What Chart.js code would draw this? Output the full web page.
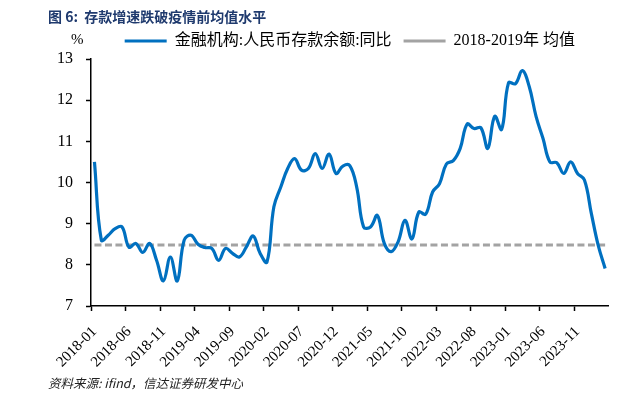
<!DOCTYPE html>
<html>
<head>
<meta charset="utf-8">
<script src="https://cdn.jsdelivr.net/npm/chart.js@4.4.1/dist/chart.umd.min.js"></script>
<style>
  html, body { margin: 0; padding: 0; background: #fff; }
  #wrap { position: relative; width: 630px; height: 394px; }
  #title { position: absolute; left: 48px; top: 6px; font: bold 14px "Noto Sans CJK SC"; color: #1F3A6E; white-space: nowrap; }
  #unit { position: absolute; left: 71px; top: 31px; font: 15px "Liberation Serif"; color: #000; }
  #source { position: absolute; left: 48px; top: 373px; font: italic 12.5px "Noto Sans CJK SC"; color: #222; white-space: nowrap; }
</style>
</head>
<body>
<div id="wrap">
  <canvas id="depositChart" width="630" height="394"></canvas>
  <div id="title">图 6:&nbsp; 存款增速跌破疫情前均值水平</div>
  <div id="unit">%</div>
  <div id="source">资料来源: ifind，信达证券研发中心</div>
</div>
<script>
// month categories, 2018-01 .. 2024-03
const months = [
  '2018-01','2018-02','2018-03','2018-04','2018-05','2018-06','2018-07','2018-08','2018-09','2018-10','2018-11','2018-12',
  '2019-01','2019-02','2019-03','2019-04','2019-05','2019-06','2019-07','2019-08','2019-09','2019-10','2019-11','2019-12',
  '2020-01','2020-02','2020-03','2020-04','2020-05','2020-06','2020-07','2020-08','2020-09','2020-10','2020-11','2020-12',
  '2021-01','2021-02','2021-03','2021-04','2021-05','2021-06','2021-07','2021-08','2021-09','2021-10','2021-11','2021-12',
  '2022-01','2022-02','2022-03','2022-04','2022-05','2022-06','2022-07','2022-08','2022-09','2022-10','2022-11','2022-12',
  '2023-01','2023-02','2023-03','2023-04','2023-05','2023-06','2023-07','2023-08','2023-09','2023-10','2023-11','2023-12',
  '2024-01','2024-02','2024-03'
];

// 金融机构:人民币存款余额:同比 (%)
const depositYoY = [
  10.50, 8.60, 8.72, 8.88, 8.92, 8.43, 8.52, 8.30, 8.52, 8.11, 7.61, 8.19,
  7.61, 8.60, 8.72, 8.50, 8.42, 8.40, 8.11, 8.40, 8.28, 8.19, 8.43, 8.70,
  8.28, 8.07, 9.41, 9.89, 10.34, 10.58, 10.30, 10.34, 10.70, 10.34, 10.69, 10.22,
  10.40, 10.41, 9.89, 8.92, 8.92, 9.20, 8.52, 8.32, 8.56, 9.08, 8.63, 9.28,
  9.23, 9.77, 9.97, 10.45, 10.53, 10.83, 11.42, 11.31, 11.33, 10.83, 11.61, 11.29,
  12.42, 12.40, 12.72, 12.33, 11.60, 11.07, 10.50, 10.48, 10.22, 10.50, 10.22, 10.06,
  9.25, 8.47, 7.91
];

// 2018-2019年 均值
const preCovidAvg = 8.48;

const serifFont = '"Liberation Serif", "Noto Sans CJK SC"';

const ctx = document.getElementById('depositChart');

new Chart(ctx, {
    type: 'line',
    data: {
        labels: months,
        datasets: [{
            label: '金融机构:人民币存款余额:同比',
            data: depositYoY,
            borderColor: '#0070C0',
            borderWidth: 3.2,
            pointRadius: 0,
            pointStyle: 'line',
            tension: 0.4
        }, {
            label: '2018-2019年 均值',
            data: months.map(() => preCovidAvg),
            borderColor: '#A3A3A3',
            borderWidth: 3,
            borderDash: [7, 3.5],
            pointRadius: 0,
            pointStyle: 'line'
        }]
    },
    options: {
        responsive: false,
        animation: false,
        layout: { padding: { top: 21, right: 21, left: 0, bottom: 0 } },
        plugins: {
            legend: {
                position: 'top',
                fullSize: false,
                labels: {
                    usePointStyle: true,
                    pointStyleWidth: 42,
                    boxHeight: 16,
                    padding: 12,
                    color: '#000',
                    font: { family: serifFont, size: 16 }
                }
            },
            tooltip: { enabled: false }
        },
        scales: {
            x: {
                offset: true,
                grid: {
                    offset: true,
                    drawOnChartArea: false,
                    tickLength: 5,
                    tickWidth: 1.5,
                    tickColor: c => (c.index % 5 === 0 ? '#000' : 'rgba(0,0,0,0)')
                },
                border: { color: '#000', width: 1.5 },
                ticks: {
                    autoSkip: false,
                    minRotation: 45,
                    maxRotation: 45,
                    padding: 12,
                    color: '#000',
                    font: { family: serifFont, size: 15 },
                    callback: (v, i) => (i % 5 === 0 ? months[i] : '')
                },
                afterFit: s => { s.height = 88; }
            },
            y: {
                min: 7,
                max: 13,
                ticks: {
                    stepSize: 1,
                    padding: 13,
                    color: '#000',
                    font: { family: serifFont, size: 16 }
                },
                grid: {
                    drawOnChartArea: false,
                    tickLength: 5,
                    tickWidth: 1.5,
                    tickColor: '#000'
                },
                border: { color: '#000', width: 1.5 },
                afterFit: s => { s.width = 91; }
            }
        }
    }
});
</script>
</body>
</html>
